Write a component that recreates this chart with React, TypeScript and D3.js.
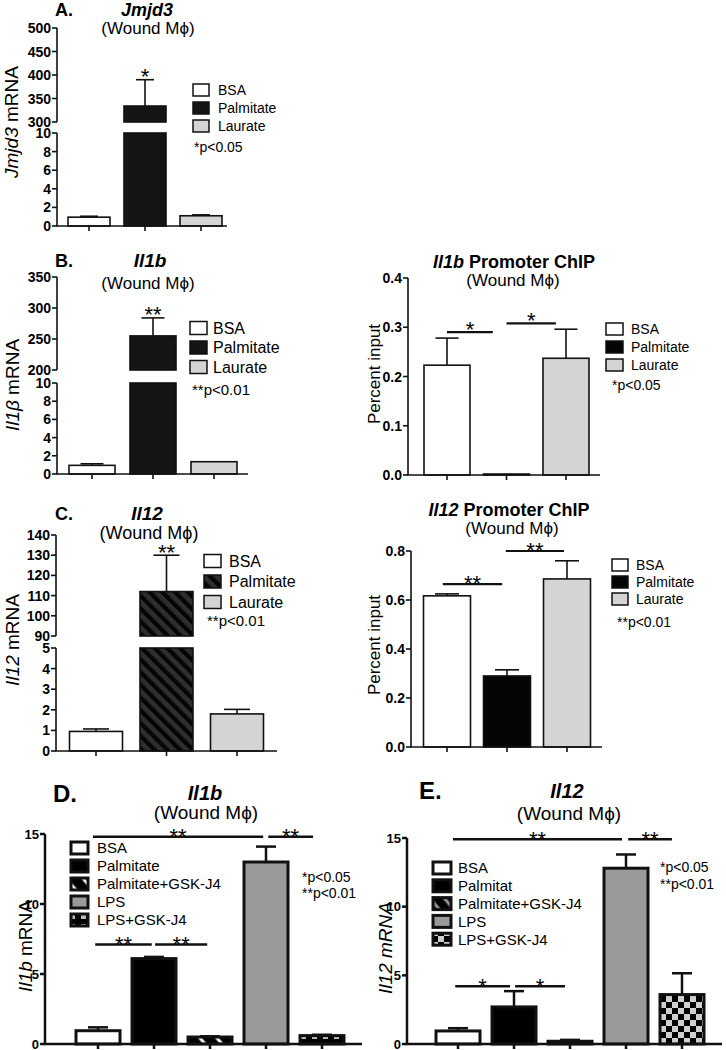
import React from "react";
import * as d3 from "d3";

const FONT = "'Liberation Sans', Arial, Helvetica, sans-serif";

// ---------- data ----------
const faCats = ["BSA", "Palmitate", "Laurate"];
const jmjd3Mean = [0.95, 334, 1.1];
const jmjd3Sem = [0.1, 56, 0.1];
const jmjd3Stars = ["", "*", ""];
const il1bMean = [0.95, 255, 1.35];
const il1bSem = [0.17, 29, 0];
const il1bStars = ["", "**", ""];
const il1bChipMean = [0.223, 0.002, 0.237];
const il1bChipSem = [0.055, 0, 0.059];
const il12Mean = [0.95, 112, 1.8];
const il12Sem = [0.12, 18, 0.22];
const il12Stars = ["", "**", ""];
const il12ChipMean = [0.617, 0.29, 0.686];
const il12ChipSem = [0.008, 0.025, 0.074];

const gskCats = ["BSA", "Palmitate", "Palmitate+GSK-J4", "LPS", "LPS+GSK-J4"];
const gskLegendE = ["BSA", "Palmitat", "Palmitate+GSK-J4", "LPS", "LPS+GSK-J4"];
const dIl1bMean = [0.95, 6.1, 0.5, 13.0, 0.6];
const dIl1bSem = [0.24, 0.12, 0.05, 1.1, 0.06];
const eIl12Mean = [0.95, 2.7, 0.2, 12.8, 3.6];
const eIl12Sem = [0.2, 1.15, 0.1, 1.0, 1.55];

const jmjd3TicksLow = [0, 2, 4, 6, 8, 10];
const jmjd3TicksHigh = [300, 350, 400, 450, 500];
const il1bTicksLow = [0, 2, 4, 6, 8, 10];
const il1bTicksHigh = [200, 250, 300, 350];
const il12TicksLow = [0, 1, 2, 3, 4, 5];
const il12TicksHigh = [90, 100, 110, 120, 130, 140];
const chip1Ticks = [0, 0.1, 0.2, 0.3, 0.4];
const chip2Ticks = [0, 0.2, 0.4, 0.6, 0.8];
const gskTicks = [0, 5, 10, 15];

// brackets: [fromIdx, toIdx, yValue, label]
const chip1Brackets: [number, number, number, string][] = [
  [0.0, 0.77, 0.29, "*"],
  [1.0, 1.83, 0.308, "*"],
];
const chip2Brackets: [number, number, number, string][] = [
  [-0.07, 0.92, 0.665, "**"],
  [0.98, 1.95, 0.8, "**"],
];
const dBrackets: [number, number, number, string][] = [
  [-0.09, 2.95, 14.8, "**"],
  [3.04, 3.84, 14.8, "**"],
  [-0.05, 0.96, 7.1, "**"],
  [1.02, 1.95, 7.1, "**"],
];
const eBrackets: [number, number, number, string][] = [
  [-0.09, 2.93, 14.9, "**"],
  [3.04, 3.82, 14.9, "**"],
  [-0.05, 0.93, 4.2, "*"],
  [1.02, 1.91, 4.2, "*"],
];

const fmt1 = d3.format(".1f");
const fmt0 = d3.format("d");

type Seg = { domain: [number, number]; range: [number, number]; ticks: number[]; fmt: (n: number) => string };

function Panel(p: any) {
  const {
    cats, means, sems, fills, centers, bw, segs, axisX, xEnd,
    tickFs, axisW, barSW, errSW, capW, stars, starFs, brackets, bracketSW, starGap,
  } = p;
  const x = d3.scalePoint<string>().domain(cats).range(centers);
  const idx = d3.scaleLinear().domain([0, cats.length - 1]).range(centers);
  const scales = (segs as Seg[]).map((s) => d3.scaleLinear().domain(s.domain).range(s.range));
  const y0 = segs[0].range[0];
  const yAt = (v: number) => {
    let k = 0;
    segs.forEach((s: Seg, i: number) => {
      if (v >= s.domain[0] && i > 0) k = i;
    });
    return scales[k](v);
  };
  return (
    <g>
      {cats.map((c: string, i: number) => {
        const v = means[i];
        const parts: any[] = [];
        segs.forEach((s: Seg, k: number) => {
          const lo = s.domain[0];
          if (v > lo || (k === 0 && v > 0)) {
            const top = Math.min(v, s.domain[1]);
            const yb = scales[k](k === 0 ? 0 : lo);
            const yt = scales[k](top);
            parts.push(
              <rect key={k} x={(x(c) as number) - bw / 2} y={yt} width={bw} height={Math.max(0.5, yb - yt)}
                fill={fills[i]} stroke="#111" strokeWidth={barSW} />
            );
          }
        });
        const e = v + sems[i];
        const yv = yAt(v);
        const ye = yAt(e);
        const cx = x(c) as number;
        return (
          <g key={c}>
            {sems[i] > 0 && (
              <g stroke="#111" strokeWidth={errSW}>
                <line x1={cx} x2={cx} y1={yv} y2={ye} />
                <line x1={cx - capW / 2} x2={cx + capW / 2} y1={ye} y2={ye} />
              </g>
            )}
            {parts}
            {stars && stars[i] && (
              <text x={cx} y={ye - 8 + 0.57 * starFs} textAnchor="middle" fontSize={starFs} fontFamily={FONT}>
                {stars[i]}
              </text>
            )}
          </g>
        );
      })}
      {(segs as Seg[]).map((s, k) => (
        <g key={k} stroke="#111" strokeWidth={axisW}>
          <line x1={axisX} x2={axisX} y1={s.range[0]} y2={s.range[1]} />
          {s.ticks.map((t) => (
            <line key={t} x1={axisX - 5} x2={axisX} y1={scales[k](t)} y2={scales[k](t)} />
          ))}
        </g>
      ))}
      {(segs as Seg[]).map((s, k) =>
        s.ticks.map((t) => (
          <text key={k + "-" + t} x={axisX - 6} y={scales[k](t)} dy="0.36em" textAnchor="end"
            fontSize={tickFs} fontWeight="bold" fontFamily={FONT}>
            {s.fmt(t)}
          </text>
        ))
      )}
      <g stroke="#111" strokeWidth={axisW}>
        <line x1={axisX - axisW / 2} x2={xEnd} y1={y0} y2={y0} />
        {cats.map((c: string) => (
          <line key={c} x1={x(c)} x2={x(c)} y1={y0} y2={y0 + 5} />
        ))}
      </g>
      {brackets &&
        brackets.map((b: [number, number, number, string], i: number) => {
          const x1 = idx(b[0]);
          const x2 = idx(b[1]);
          const yy = scales[0](b[2]);
          return (
            <g key={i}>
              <line x1={x1} x2={x2} y1={yy} y2={yy} stroke="#111" strokeWidth={bracketSW} />
              <text x={(x1 + x2) / 2} y={yy - starGap + 0.57 * starFs} textAnchor="middle" fontSize={starFs}
                fontFamily={FONT}>
                {b[3]}
              </text>
            </g>
          );
        })}
    </g>
  );
}

function Legend(p: any) {
  const { labels, fills, x, y0, dy, w, h, fs, sw, tx } = p;
  return (
    <g>
      {labels.map((l: string, i: number) => (
        <g key={l}>
          <rect x={x} y={y0 + i * dy - h / 2} width={w} height={h} fill={fills[i]} stroke="#111" strokeWidth={sw} />
          <text x={tx} y={y0 + i * dy} dy="0.36em" fontSize={fs} fontFamily={FONT}>
            {l}
          </text>
        </g>
      ))}
    </g>
  );
}

function YLabel(p: any) {
  const { x, y, fs, italic, rest, allItalic } = p;
  return (
    <text transform={`translate(${x},${y}) rotate(-90)`} textAnchor="middle" dy="0.36em" fontSize={fs}
      fontFamily={FONT} fontStyle={allItalic ? "italic" : "normal"}>
      <tspan fontStyle="italic">{italic}</tspan>
      {rest}
    </text>
  );
}

function Txt(p: any) {
  const { x, y, fs, bold, italic, anchor, children } = p;
  return (
    <text x={x} y={y} fontSize={fs} fontWeight={bold ? "bold" : "normal"} fontStyle={italic ? "italic" : "normal"}
      textAnchor={anchor || "start"} fontFamily={FONT}>
      {children}
    </text>
  );
}

const WM = "(Wound M\u03d5)";

export default function App() {
  const faFills = ["#ffffff", "#151515", "#d4d4d4"];
  const faFillsC = ["#ffffff", "url(#hatchC)", "#d4d4d4"];
  const chipFills = ["#ffffff", "#050505", "#d4d4d4"];
  const dFills = ["#ffffff", "#000000", "url(#stripeD)", "#9a9a9a", "url(#squaresD)"];
  const eFills = ["#ffffff", "#000000", "url(#stripeE)", "#9a9a9a", "url(#checkE)"];
  const common = { axisW: 1.6, barSW: 1.6, errSW: 1.6, starFs: 22 };
  const dCommon = { axisW: 2.5, barSW: 3, errSW: 2.5, starFs: 22, tickFs: 13, bw: 44, capW: 20, bracketSW: 2.5, starGap: 5 };

  return (
    <svg width={726} height={1050} style={{ position: "absolute", left: 0, top: 0, background: "#fff" }}>
      <defs>
        <pattern id="hatchC" width="9" height="9" patternUnits="userSpaceOnUse" patternTransform="rotate(-45)">
          <rect width="9" height="9" fill="#2e2e2e" />
          <line x1="2" y1="0" x2="2" y2="9" stroke="#050505" strokeWidth="4.5" />
        </pattern>
        <pattern id="stripeD" width="13" height="13" patternUnits="userSpaceOnUse" patternTransform="rotate(-40)">
          <rect width="13" height="13" fill="#000" />
          <line x1="6" y1="0" x2="6" y2="13" stroke="#fff" strokeWidth="3" />
        </pattern>
        <pattern id="stripeE" width="11" height="11" patternUnits="userSpaceOnUse" patternTransform="rotate(-40)">
          <rect width="11" height="11" fill="#000" />
          <line x1="5" y1="0" x2="5" y2="11" stroke="#999" strokeWidth="3" />
        </pattern>
        <pattern id="squaresD" width="11" height="10" patternUnits="userSpaceOnUse" x="1" y="2">
          <rect width="11" height="10" fill="#000" />
          <rect x="3" y="2" width="5" height="5" fill="#bbb" />
        </pattern>
        <pattern id="checkE" width="12" height="12" patternUnits="userSpaceOnUse">
          <rect width="12" height="12" fill="#cfcfcf" />
          <rect x="0" y="0" width="6" height="6" fill="#000" />
          <rect x="6" y="6" width="6" height="6" fill="#000" />
        </pattern>
      </defs>

      {/* ---------- A ---------- */}
      <Txt x={55} y={16} fs={18} bold>A.</Txt>
      <Txt x={147} y={16} fs={18} bold italic anchor="middle">Jmjd3</Txt>
      <Txt x={148} y={34} fs={17} anchor="middle">{WM}</Txt>
      <YLabel x={11} y={122} fs={19} italic="Jmjd3" rest=" mRNA" />
      <Panel {...common} cats={faCats} means={jmjd3Mean} sems={jmjd3Sem} fills={faFills} centers={[89, 201]} bw={42}
        segs={[
          { domain: [0, 10], range: [226, 133], ticks: jmjd3TicksLow, fmt: fmt0 },
          { domain: [300, 500], range: [122, 28], ticks: jmjd3TicksHigh, fmt: fmt0 },
        ]}
        axisX={57} xEnd={227} tickFs={14} capW={18} stars={jmjd3Stars} />
      <Legend labels={faCats} fills={faFills} x={193} y0={90} dy={18} w={16} h={12} fs={14} sw={1.5} tx={218} />
      <Txt x={194} y={152} fs={14}>*p&lt;0.05</Txt>

      {/* ---------- B left ---------- */}
      <Txt x={55} y={267} fs={18} bold>B.</Txt>
      <Txt x={150} y={267} fs={19} bold italic anchor="middle">Il1b</Txt>
      <Txt x={148} y={289} fs={17} anchor="middle">{WM}</Txt>
      <YLabel x={12} y={385} fs={19} italic={"Il1\u03b2"} rest=" mRNA" />
      <Panel {...common} cats={faCats} means={il1bMean} sems={il1bSem} fills={faFills} centers={[92, 214]} bw={46}
        segs={[
          { domain: [0, 10], range: [474, 383], ticks: il1bTicksLow, fmt: fmt0 },
          { domain: [200, 350], range: [370, 277], ticks: il1bTicksHigh, fmt: fmt0 },
        ]}
        axisX={57} xEnd={248} tickFs={14} capW={23} stars={il1bStars} />
      <Legend labels={faCats} fills={faFills} x={190} y0={328} dy={19.5} w={17} h={13} fs={16} sw={1.5} tx={213} />
      <Txt x={192} y={395} fs={15}>**p&lt;0.01</Txt>

      {/* ---------- B right ---------- */}
      <text x={514} y={268} textAnchor="middle" fontSize={18} fontWeight="bold" fontFamily={FONT}>
        <tspan fontStyle="italic">Il1b</tspan> Promoter ChIP
      </text>
      <Txt x={513} y={286} fs={17} anchor="middle">{WM}</Txt>
      <YLabel x={374} y={374} fs={17} italic="" rest="Percent input" />
      <Panel {...common} cats={faCats} means={il1bChipMean} sems={il1bChipSem} fills={chipFills} centers={[447, 566]}
        bw={46} segs={[{ domain: [0, 0.4], range: [475, 278], ticks: chip1Ticks, fmt: fmt1 }]}
        axisX={408} xEnd={600} tickFs={14} capW={23} brackets={chip1Brackets} bracketSW={2.2} starGap={8} />
      <Legend labels={faCats} fills={chipFills} x={606} y0={329} dy={18} w={17} h={12} fs={14} sw={1.5} tx={631} />
      <Txt x={612} y={390} fs={14}>*p&lt;0.05</Txt>

      {/* ---------- C left ---------- */}
      <Txt x={55} y={520} fs={18} bold>C.</Txt>
      <Txt x={147} y={520} fs={19} bold italic anchor="middle">Il12</Txt>
      <Txt x={149} y={539} fs={18} anchor="middle">{WM}</Txt>
      <YLabel x={12} y={640} fs={19} italic="Il12" rest=" mRNA" />
      <Panel {...common} cats={faCats} means={il12Mean} sems={il12Sem} fills={faFillsC} centers={[96, 237]} bw={53}
        segs={[
          { domain: [0, 5], range: [751, 648], ticks: il12TicksLow, fmt: fmt0 },
          { domain: [90, 140], range: [636, 535], ticks: il12TicksHigh, fmt: fmt0 },
        ]}
        axisX={56} xEnd={277} tickFs={14} capW={26} stars={il12Stars} />
      <Legend labels={faCats} fills={faFillsC} x={204} y0={561} dy={20.5} w={17} h={13} fs={16} sw={1.5} tx={229} />
      <Txt x={207} y={626} fs={15}>**p&lt;0.01</Txt>

      {/* ---------- C right ---------- */}
      <text x={509} y={516} textAnchor="middle" fontSize={18} fontWeight="bold" fontFamily={FONT}>
        <tspan fontStyle="italic">Il12</tspan> Promoter ChIP
      </text>
      <Txt x={512} y={534} fs={17} anchor="middle">{WM}</Txt>
      <YLabel x={374} y={645} fs={17} italic="" rest="Percent input" />
      <Panel {...common} cats={faCats} means={il12ChipMean} sems={il12ChipSem} fills={chipFills} centers={[447, 567]}
        bw={47} segs={[{ domain: [0, 0.8], range: [747, 551], ticks: chip2Ticks, fmt: fmt1 }]}
        axisX={411} xEnd={602} tickFs={14} capW={24} brackets={chip2Brackets} bracketSW={2.2} starGap={6} />
      <Legend labels={faCats} fills={chipFills} x={612} y0={565} dy={17} w={16} h={12} fs={14} sw={1.5} tx={636} />
      <Txt x={617} y={627} fs={14}>**p&lt;0.01</Txt>

      {/* ---------- D ---------- */}
      <Txt x={53} y={802} fs={24} bold>D.</Txt>
      <Txt x={205} y={800} fs={20} bold italic anchor="middle">Il1b</Txt>
      <Txt x={206} y={819} fs={19} anchor="middle">{WM}</Txt>
      <YLabel x={25} y={946} fs={19} italic="Il1b" rest=" mRNA" />
      <Panel {...dCommon} cats={gskCats} means={dIl1bMean} sems={dIl1bSem} fills={dFills} centers={[98, 322]}
        segs={[{ domain: [0, 15], range: [1044, 834], ticks: gskTicks, fmt: fmt0 }]}
        axisX={45} xEnd={362} brackets={dBrackets} />
      <Legend labels={gskCats} fills={dFills} x={71} y0={848} dy={18} w={17} h={12} fs={15} sw={3} tx={97} />
      <Txt x={302} y={882} fs={14}>*p&lt;0.05</Txt>
      <Txt x={302} y={898} fs={14}>**p&lt;0.01</Txt>

      {/* ---------- E ---------- */}
      <Txt x={419} y={799} fs={24} bold>E.</Txt>
      <Txt x={567} y={798} fs={20} bold italic anchor="middle">Il12</Txt>
      <Txt x={569} y={820} fs={19} anchor="middle">{WM}</Txt>
      <YLabel x={385} y={948} fs={19} italic="" rest="Il12 mRNA" allItalic />
      <Panel {...dCommon} cats={gskCats} means={eIl12Mean} sems={eIl12Sem} fills={eFills} centers={[458, 682]}
        segs={[{ domain: [0, 15], range: [1044, 838], ticks: gskTicks, fmt: fmt0 }]}
        axisX={407} xEnd={722} brackets={eBrackets} />
      <Legend labels={gskLegendE} fills={eFills} x={433} y0={868} dy={17.8} w={18} h={12} fs={15} sw={3} tx={458} />
      <Txt x={660} y={872} fs={14}>*p&lt;0.05</Txt>
      <Txt x={660} y={889} fs={14}>**p&lt;0.01</Txt>
    </svg>
  );
}
